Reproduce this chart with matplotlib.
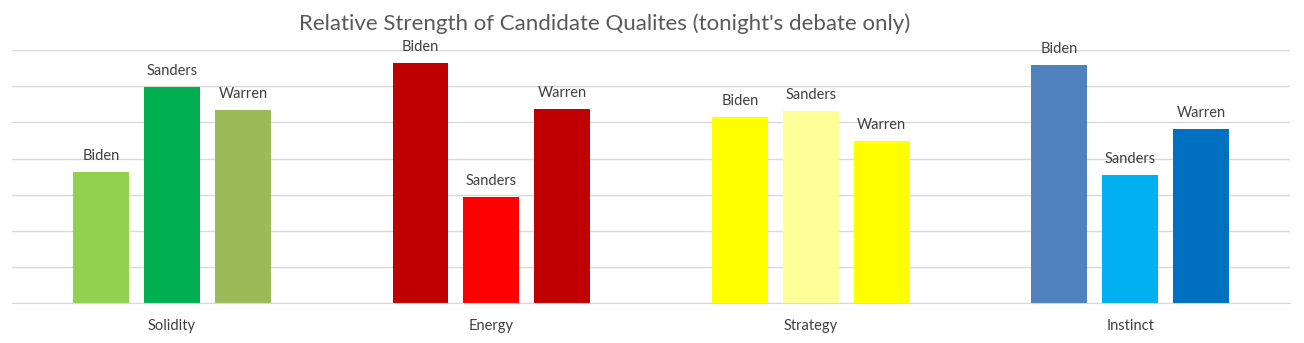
import numpy as np
import matplotlib
matplotlib.use('Agg')
from matplotlib import pyplot as plt

# chart data
qualities = ['Solidity', 'Energy', 'Strategy', 'Instinct']
candidates = ['Biden', 'Sanders', 'Warren']
biden_scores = [3.63, 6.64, 5.15, 6.58]
sanders_scores = [5.98, 2.94, 5.31, 3.55]
warren_scores = [5.34, 5.37, 4.48, 4.82]
bar_colors = [
    ['#92D050', '#00B050', '#9BBB59'],
    ['#C00000', '#FF0000', '#C00000'],
    ['#FFFF00', '#FFFF99', '#FFFF00'],
    ['#4F81BD', '#00B0F0', '#0070C0'],
]
title = "Relative Strength of Candidate Qualites (tonight's debate only)"

plt.rcParams['font.family'] = ['Lato', 'DejaVu Sans']

fig = plt.figure(figsize=(13.04, 3.43), dpi=100)
ax = fig.add_axes([0.0094, 0.1157, 0.9799, 0.7385])

BAR_WIDTH = 0.175
STEP = 0.222
x_range = np.arange(len(qualities))
series = [biden_scores, sanders_scores, warren_scores]

for j, (name, values) in enumerate(zip(candidates, series)):
    positions = x_range + (j - 1) * STEP
    colors = [bar_colors[i][j] for i in range(len(qualities))]
    bars = ax.bar(positions, values, width=BAR_WIDTH, color=colors, zorder=2)
    for bar in bars:
        ax.annotate(name, (bar.get_x() + bar.get_width() / 2, bar.get_height()),
                    xytext=(0, 6.5), textcoords='offset points', ha='center', va='bottom',
                    fontsize=10.5, color='#404040')

ax.set_xlim(-0.5, len(qualities) - 0.5)
ax.set_ylim(0, 7)
ax.set_yticks(np.arange(0, 8))
ax.yaxis.grid(True, color='#D9D9D9', linewidth=1, zorder=0)
ax.tick_params(axis='y', left=False, labelleft=False)
ax.set_xticks(x_range)
ax.set_xticklabels(qualities, fontsize=10.5, color='#404040')
ax.tick_params(axis='x', length=0, pad=11.5)
for side in ['top', 'left', 'right']:
    ax.spines[side].set_visible(False)
ax.spines['bottom'].set_color('#D9D9D9')

fig.text(0.464, 0.9125, title, ha='center', va='baseline', fontsize=16, color='#595959')

fig.savefig('out.png', dpi=100)
